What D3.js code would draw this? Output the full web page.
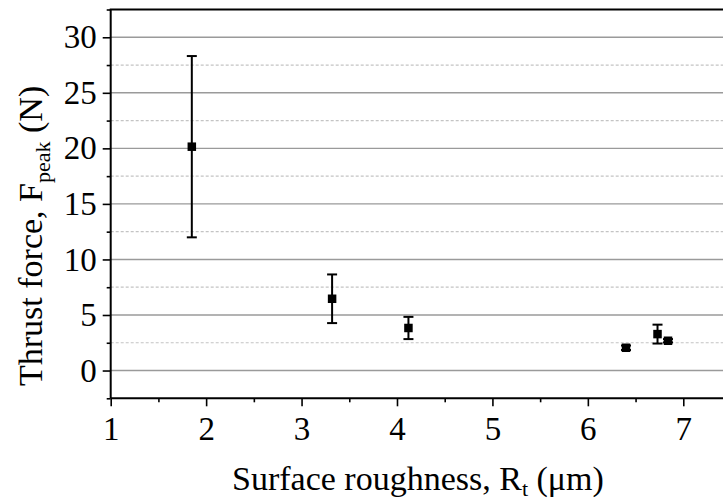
<!DOCTYPE html>
<html>
<head>
<meta charset="utf-8">
<script src="https://cdn.jsdelivr.net/npm/d3@7"></script>
<style>
  html, body { margin: 0; padding: 0; background: #fff; }
  svg { display: block; }
  svg text { font-family: "Liberation Serif", "Times New Roman", serif; }
</style>
</head>
<body>
<svg id="chart" width="723" height="501"></svg>
<script>
// Surface roughness R_t (µm) for each specimen
const roughness = [1.85, 3.32, 4.12, 6.40, 6.73, 6.84];
// Mean peak thrust force (N)
const thrustMean = [20.15, 6.46, 3.83, 2.05, 3.28, 2.68];
// Standard deviation of the thrust force (N)
const thrustErr = [8.16, 2.19, 1.00, 0.20, 0.85, 0.15];

const xTicks = [1, 2, 3, 4, 5, 6, 7];
const xMinorTicks = [1.5, 2.5, 3.5, 4.5, 5.5, 6.5, 7.5];
const yTicks = [0, 5, 10, 15, 20, 25, 30];
const yMinorTicks = [-2.5, 2.5, 7.5, 12.5, 17.5, 22.5, 27.5, 32.5];

const svg = d3.select("#chart");
const plotLeft = 110.7, plotTop = 9.5, plotBottom = 398.3;
const x = d3.scaleLinear().domain([1, 7.5]).range([plotLeft, plotLeft + 6.5 * 95.43]);
const y = d3.scaleLinear().domain([-2.5, 32.5]).range([plotBottom, plotTop]);
const plotRight = x(7.5);

// horizontal grid: dotted at the half steps, solid at the labelled values
const grid = svg.append("g");
grid.selectAll("line.minor").data(yMinorTicks.filter(d => d > -2.5 && d < 32.5)).join("line")
  .attr("class", "minor")
  .attr("x1", plotLeft).attr("x2", plotRight)
  .attr("y1", d => y(d)).attr("y2", d => y(d))
  .attr("stroke", "#c4c4c4").attr("stroke-width", 1.2).attr("stroke-dasharray", "3,2");
grid.selectAll("line.major").data(yTicks).join("line")
  .attr("class", "major")
  .attr("x1", plotLeft).attr("x2", plotRight)
  .attr("y1", d => y(d)).attr("y2", d => y(d))
  .attr("stroke", "#9a9a9a").attr("stroke-width", 1.4);

// axes with outward major and minor ticks
const xAxis = svg.append("g").attr("transform", `translate(0,${plotBottom})`)
  .call(d3.axisBottom(x).tickValues(xTicks).tickFormat(d3.format("d")).tickSize(8).tickPadding(10));
const xMinor = svg.append("g").attr("transform", `translate(0,${plotBottom})`)
  .call(d3.axisBottom(x).tickValues(xMinorTicks).tickFormat("").tickSize(4));
const yAxis = svg.append("g").attr("transform", `translate(${plotLeft},0)`)
  .call(d3.axisLeft(y).tickValues(yTicks).tickFormat(d3.format("d")).tickSize(8).tickPadding(6));
const yMinor = svg.append("g").attr("transform", `translate(${plotLeft},0)`)
  .call(d3.axisLeft(y).tickValues(yMinorTicks).tickFormat("").tickSize(4));
[xAxis, xMinor, yAxis, yMinor].forEach(g => {
  g.attr("font-family", null).attr("font-size", 33);
  g.select(".domain").attr("stroke", "#000").attr("stroke-width", 2);
  g.selectAll(".tick line").attr("stroke", "#000").attr("stroke-width", 1.6);
  g.selectAll(".tick text").attr("fill", "#000");
});
xAxis.select(".domain").attr("d", `M${plotLeft},0H${plotRight}`);
xMinor.select(".domain").remove();
yAxis.select(".domain").attr("d", `M0,${plotBottom}V${plotTop}`);
yMinor.select(".domain").remove();
// top frame
svg.append("line").attr("x1", plotLeft - 1).attr("x2", plotRight)
  .attr("y1", plotTop).attr("y2", plotTop).attr("stroke", "#000").attr("stroke-width", 2);

// error bars and square markers
const pts = roughness.map((r, i) => ({ x: r, m: thrustMean[i], e: thrustErr[i] }));
const capW = 5;
const eb = svg.append("g").attr("stroke", "#000").attr("stroke-width", 2);
eb.selectAll("line.v").data(pts).join("line").attr("class", "v")
  .attr("x1", d => x(d.x)).attr("x2", d => x(d.x))
  .attr("y1", d => y(d.m + d.e)).attr("y2", d => y(d.m - d.e));
eb.selectAll("line.t").data(pts).join("line").attr("class", "t")
  .attr("x1", d => x(d.x) - capW).attr("x2", d => x(d.x) + capW)
  .attr("y1", d => y(d.m + d.e)).attr("y2", d => y(d.m + d.e));
eb.selectAll("line.b").data(pts).join("line").attr("class", "b")
  .attr("x1", d => x(d.x) - capW).attr("x2", d => x(d.x) + capW)
  .attr("y1", d => y(d.m - d.e)).attr("y2", d => y(d.m - d.e));
const sq = 8.5;
svg.append("g").selectAll("rect").data(pts).join("rect")
  .attr("x", d => x(d.x) - sq / 2).attr("y", d => y(d.m) - sq / 2)
  .attr("width", sq).attr("height", sq).attr("fill", "#000");

// axis titles
const xl = svg.append("text").attr("x", 232).attr("y", 490)
  .attr("font-size", 34).attr("fill", "#000");
xl.append("tspan").text("Surface roughness, R");
xl.append("tspan").attr("dy", 6).attr("font-size", 22).text("t");
xl.append("tspan").attr("dy", -6).text(" (\u03bcm)");

const yl = svg.append("text").attr("transform", "translate(42,386) rotate(-90)")
  .attr("font-size", 34).attr("fill", "#000");
yl.append("tspan").text("Thrust force, F");
yl.append("tspan").attr("dy", 8).attr("font-size", 22).text("peak");
yl.append("tspan").attr("dy", -8).text(" (N)");
</script>
</body>
</html>
